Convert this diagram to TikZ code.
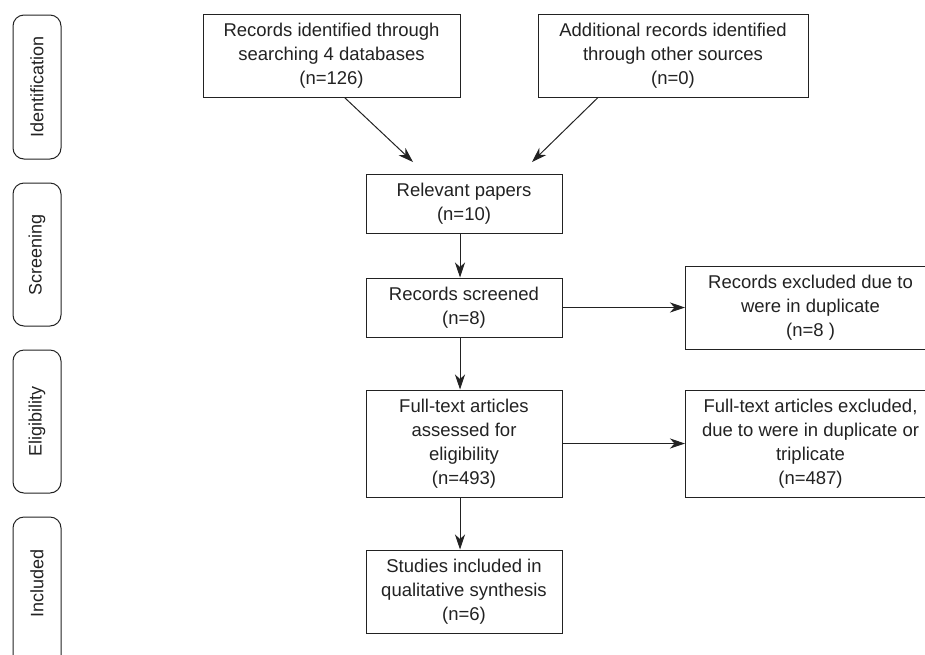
\documentclass[tikz,border=0pt]{standalone}
\usepackage{fontspec}
\setmainfont{Liberation Sans}
\usetikzlibrary{arrows.meta}
\definecolor{ink}{HTML}{222222}
\begin{document}
\begin{tikzpicture}[x=1pt,y=-1pt,
  box/.style={draw=ink,line width=1pt,align=center,inner sep=0pt,font=\fontsize{18.5}{24}\selectfont,text=ink},
  side/.style={draw=ink,line width=1pt,rounded corners=11pt,inner sep=0pt},
  arr/.style={draw=ink,line width=1pt,-{Stealth[length=15pt,width=10pt,inset=4.5pt]}},
  lbl/.style={rotate=90,font=\fontsize{18}{21}\selectfont,text=ink}]
\useasboundingbox (0,0) rectangle (925,654);
\clip (0,0) rectangle (925,654);
% side labels
\draw[side] (13,15) rectangle (61,159);
\node[lbl] (lid) at (37,87) {Identification};
\draw[side] (13,183) rectangle (61,326);
\node[lbl] (lsc) at (37,254.5) {Screening};
\draw[side] (13,350) rectangle (61,493);
\node[lbl] (lel) at (37,421.5) {Eligibility};
\draw[side] (13,517) rectangle (61,672);
\node[lbl] (lin) at (37,583) {Included};
% boxes
\node[box,minimum width=257pt,minimum height=83pt] (b1) at (331.5,55.5)
  {Records identified through\\searching 4 databases\\(n=126)};
\node[box,minimum width=270pt,minimum height=83pt] (b2) at (673,55.5)
  {Additional records identified\\through other sources\\(n=0)};
\node[box,minimum width=196pt,minimum height=59pt] (rel) at (464,203.5)
  {Relevant papers\\(n=10)};
\node[box,minimum width=196pt,minimum height=59pt] (scr) at (464,307.5)
  {Records screened\\(n=8)};
\node[box,minimum width=250pt,minimum height=83pt,anchor=west] (ex1) at (685,307.5)
  {Records excluded due to\\were in duplicate\\(n=8 )};
\node[box,minimum width=196pt,minimum height=107pt] (ft) at (464,443.5)
  {Full-text articles\\assessed for\\eligibility\\(n=493)};
\node[box,minimum width=250pt,minimum height=107pt,anchor=west] (ex2) at (685,443.5)
  {Full-text articles excluded,\\due to were in duplicate or\\triplicate\\(n=487)};
\node[box,minimum width=196pt,minimum height=83pt] (inc) at (464,591.5)
  {Studies included in\\qualitative synthesis\\(n=6)};
% connectors
\coordinate (t1) at (413,162);
\coordinate (t2) at (532,162);
\draw[arr] ([xshift=13pt]b1.south) -- (t1);
\draw[arr] ([xshift=-75pt]b2.south) -- (t2);
\draw[arr] ([xshift=-4pt]rel.south) -- ([xshift=-4pt]scr.north);
\draw[arr] ([xshift=-4pt]scr.south) -- ([xshift=-4pt]ft.north);
\draw[arr] ([xshift=-4pt]ft.south) -- ([xshift=-4pt]inc.north);
\draw[arr] (scr.east) -- (ex1.west);
\draw[arr] (ft.east) -- (ex2.west);
\end{tikzpicture}
\end{document}
